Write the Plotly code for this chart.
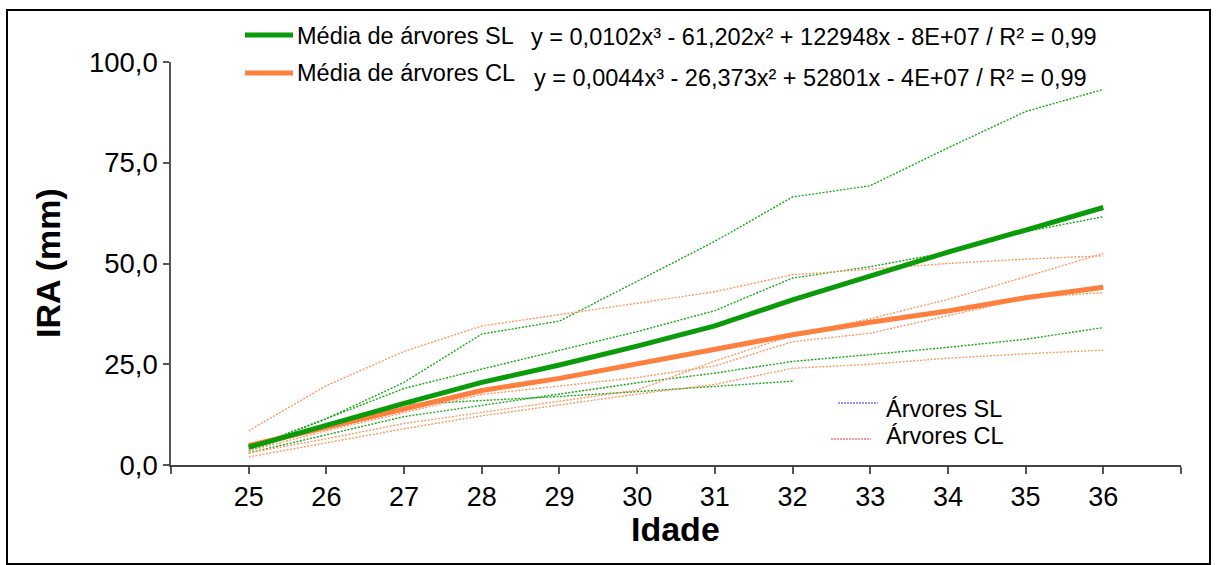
import plotly.graph_objects as go

# ---- data ----
ages = [25, 26, 27, 28, 29, 30, 31, 32, 33, 34, 35, 36]
age_labels = [str(a) for a in ages]

sl_tree1 = [4.2, 11.5, 20.5, 32.5, 35.7, 45.5, 55.5, 66.5, 69.3, 78.7, 87.7, 93.2]
sl_tree2 = [4.0, 11.5, 19.0, 23.8, 28.4, 33.1, 38.3, 46.4, 49.2, 52.8, 57.9, 61.6]
sl_tree3 = [3.0, 7.5, 12.0, 14.8, 17.6, 20.4, 22.8, 25.7, 27.4, 29.2, 31.2, 34.1]
sl_tree4 = [3.5, 10.0, 15.0, 16.0, 17.0, 18.2, 19.5, 20.8, None, None, None, None]

cl_tree1 = [8.5, 19.7, 28.2, 34.5, 37.3, 40.2, 43.0, 47.2, 48.6, 50.0, 51.1, 51.9]
cl_tree2 = [3.0, 6.5, 10.3, 13.1, 15.9, 18.6, 25.8, 32.2, 36.3, 41.1, 46.7, 52.5]
cl_tree3 = [3.5, 8.5, 13.0, 17.5, 19.6, 21.7, 24.6, 30.6, 32.7, 37.0, 41.4, 42.8]
cl_tree4 = [2.0, 5.5, 9.0, 12.2, 14.9, 17.6, 20.0, 24.0, 25.0, 26.5, 27.6, 28.5]

mean_sl = [4.4, 10.0, 15.3, 20.5, 24.8, 29.5, 34.5, 41.0, 47.0, 52.8, 58.3, 63.9]
mean_cl = [4.8, 9.3, 14.0, 18.5, 21.5, 25.2, 28.8, 32.3, 35.4, 38.2, 41.5, 44.1]

y_ticks = [0, 25, 50, 75, 100]

eq_sl = "y = 0,0102x³ - 61,202x² + 122948x - 8E+07 / R² = 0,99"
eq_cl = "y = 0,0044x³ - 26,373x² + 52801x - 4E+07 / R² = 0,99"

# ---- style ----
FONT = "Arial, Liberation Sans, sans-serif"
GREEN = "#0a9a0a"
ORANGE = "#ff7f3f"
GREEN_DOT = "#1aa81a"
ORANGE_DOT = "#ff9a66"

W, H = 1217, 565
L, R, T, B = 171, 36, 62, 100
PW, PH = W - L - R, H - T - B


def px(x):
    return (x - L) / PW


def py(y):
    return (H - B - y) / PH


fig = go.Figure()

for s in [sl_tree1, sl_tree2, sl_tree3, sl_tree4]:
    fig.add_trace(go.Scatter(x=ages, y=s, mode="lines", showlegend=False,
                             line=dict(color=GREEN_DOT, width=1.4, dash="2px,1.5px")))
for s in [cl_tree1, cl_tree2, cl_tree3, cl_tree4]:
    fig.add_trace(go.Scatter(x=ages, y=s, mode="lines", showlegend=False,
                             line=dict(color=ORANGE_DOT, width=1.4, dash="2px,1.5px")))

fig.add_trace(go.Scatter(x=ages, y=mean_cl, mode="lines", showlegend=False,
                         line=dict(color=ORANGE, width=5)))
fig.add_trace(go.Scatter(x=ages, y=mean_sl, mode="lines", showlegend=False,
                         line=dict(color=GREEN, width=5)))

shapes = [
    # outer border
    dict(type="rect", xref="paper", yref="paper", x0=px(7), x1=px(1210), y0=py(564), y1=py(10),
         line=dict(color="black", width=2), layer="below"),
    # top legend samples
    dict(type="line", xref="paper", yref="paper", x0=px(245), x1=px(293), y0=py(35), y1=py(35),
         line=dict(color=GREEN, width=5)),
    dict(type="line", xref="paper", yref="paper", x0=px(245), x1=px(293), y0=py(73), y1=py(73),
         line=dict(color=ORANGE, width=5)),
    # bottom legend samples
    dict(type="line", xref="paper", yref="paper", x0=px(838), x1=px(878), y0=py(403), y1=py(403),
         line=dict(color="#2a2aff", width=1, dash="2px,1px")),
    dict(type="line", xref="paper", yref="paper", x0=px(831), x1=px(871), y0=py(439), y1=py(439),
         line=dict(color="#ff3333", width=1, dash="2px,1px")),
]

ann = [
    dict(text="Média de árvores SL", x=px(295), y=py(36), xanchor="left", yanchor="middle",
         font=dict(size=23.5, family=FONT, color="black")),
    dict(text=eq_sl, x=px(529), y=py(37), xanchor="left", yanchor="middle",
         font=dict(size=23.5, family=FONT, color="black")),
    dict(text="Média de árvores CL", x=px(295), y=py(73), xanchor="left", yanchor="middle",
         font=dict(size=23.5, family=FONT, color="black")),
    dict(text=eq_cl, x=px(532), y=py(78), xanchor="left", yanchor="middle",
         font=dict(size=23.5, family=FONT, color="black")),
    dict(text="Árvores SL", x=px(884), y=py(409), xanchor="left", yanchor="middle",
         font=dict(size=23.5, family=FONT, color="black")),
    dict(text="Árvores CL", x=px(884), y=py(436), xanchor="left", yanchor="middle",
         font=dict(size=23.5, family=FONT, color="black")),
    dict(text="<b>IRA (mm)</b>", x=px(48), y=py(263), textangle=-90, xanchor="center",
         yanchor="middle", font=dict(size=34, family=FONT, color="black")),
    dict(text="<b>Idade</b>", x=px(675), y=py(529), xanchor="center", yanchor="middle",
         font=dict(size=34, family=FONT, color="black")),
]
for a in ann:
    a.update(xref="paper", yref="paper", showarrow=False)

fig.update_layout(
    width=W, height=H,
    margin=dict(l=L, r=R, t=T, b=B, pad=0),
    paper_bgcolor="white", plot_bgcolor="white",
    separators=",.",
    showlegend=False,
    shapes=shapes,
    annotations=ann,
    font=dict(family=FONT, color="black"),
)

fig.update_xaxes(
    range=[24, 37],
    tickvals=[24] + ages + [37],
    ticktext=[""] + age_labels + [""],
    ticks="outside", ticklen=7, tickwidth=1.5, tickcolor="#555",
    showline=True, linecolor="#444", linewidth=1.5,
    showgrid=False, zeroline=False,
    tickfont=dict(size=27, family=FONT, color="black"),
)
fig.update_yaxes(
    range=[0, 100],
    tickvals=y_ticks,
    tickformat=".1f",
    ticks="outside", ticklen=6, tickwidth=1.5, tickcolor="#555",
    showline=True, linecolor="#555", linewidth=1.5,
    showgrid=False, zeroline=False,
    tickfont=dict(size=27.5, family=FONT, color="black"),
)

fig.write_html("out.html")
